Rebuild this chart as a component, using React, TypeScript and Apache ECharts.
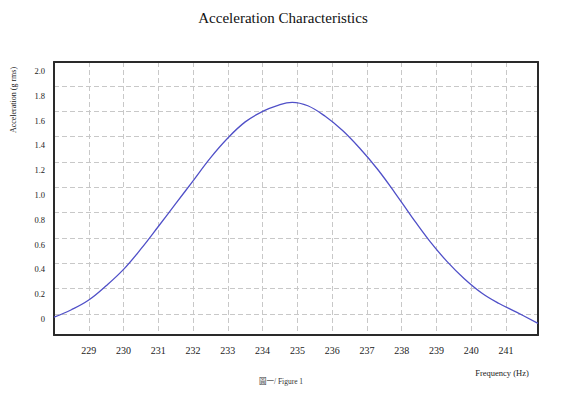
import React, { useEffect, useRef } from "react";
import * as echarts from "echarts";

const titleText = "Acceleration Characteristics";
const yName = "Acceleration (g rms)";
const xName = "Frequency (Hz)";
const caption = "圖一/ Figure 1";

const freq = [228, 228.5, 229, 229.5, 230, 230.5, 231, 231.5, 232, 232.5, 233, 233.5, 234, 234.4, 234.85, 235.3, 235.8, 236.3, 236.8, 237.3, 237.8, 238.3, 238.8, 239.3, 239.8, 240.3, 240.8, 241.3, 241.92];
const accel = [0.015, 0.075, 0.153, 0.268, 0.4, 0.565, 0.746, 0.93, 1.115, 1.3, 1.46, 1.59, 1.675, 1.72, 1.748, 1.72, 1.635, 1.52, 1.375, 1.21, 1.02, 0.82, 0.63, 0.465, 0.325, 0.21, 0.125, 0.055, -0.035];

const xTickMin = 229;
const xTickMax = 241;
const yTickMin = 0;
const yTickMax = 2;

const FONT = "'Liberation Serif', 'Times New Roman', serif";
const CJK = "'Liberation Serif', 'Noto Sans CJK TC', serif";

export default function App() {
  const ref = useRef<HTMLDivElement>(null);
  useEffect(() => {
    if (!ref.current) return;
    const chart = echarts.init(ref.current, null, { renderer: "svg" });
    const gridLine = { show: true, showMinLine: false, showMaxLine: false, lineStyle: { color: "#c8c8c8", type: [5, 3], width: 1 } };
    const border = { show: true, onZero: false, lineStyle: { color: "#2a2a2a", width: 2 } };
    chart.setOption({
      animation: false,
      backgroundColor: "#fff",
      title: {
        text: titleText,
        left: 278,
        top: 5,
        textAlign: "center",
        textStyle: { fontFamily: FONT, fontSize: 15, fontWeight: "normal", color: "#111" },
      },
      grid: { left: 54, right: 26, top: 62, bottom: 58, containLabel: false },
      xAxis: [
        {
          type: "value",
          position: "bottom",
          min: 228,
          max: 241.92,
          interval: 1,
          axisLine: border,
          axisTick: { show: false },
          axisLabel: {
            margin: 10,
            fontFamily: FONT,
            fontSize: 10,
            color: "#222",
            hideOverlap: false,
            formatter: (v: number) => {
              const r = Math.round(v);
              if (Math.abs(v - r) > 1e-6 || r < xTickMin || r > xTickMax) return "";
              return String(r);
            },
          },
          splitLine: gridLine,
        },
        {
          type: "value",
          position: "top",
          min: 228,
          max: 241.92,
          interval: 1,
          axisLine: border,
          axisTick: { show: false },
          axisLabel: { show: false },
          splitLine: { show: false },
        },
      ],
      yAxis: [
        {
          type: "value",
          position: "left",
          min: -0.129,
          max: 2.073,
          splitNumber: 11,
          axisLine: border,
          axisTick: { show: false },
          axisLabel: {
            margin: 9,
            fontFamily: FONT,
            fontSize: 8.5,
            color: "#222",
            hideOverlap: false,
            showMinLabel: false,
            showMaxLabel: false,
            formatter: (v: number) => {
              const r = Math.round(v * 5) / 5;
              if (Math.abs(v - r) > 1e-6 || r < yTickMin - 1e-9 || r > yTickMax + 1e-9) return "";
              return r === 0 ? "0" : r.toFixed(1);
            },
          },
          splitLine: { show: false },
        },
        {
          type: "value",
          position: "right",
          min: -0.83,
          max: 9.95,
          splitNumber: 11,
          axisLine: border,
          axisTick: { show: false },
          axisLabel: { show: false },
          splitLine: gridLine,
        },
      ],
      graphic: [
        {
          type: "text",
          x: 13.5,
          y: 100,
          rotation: Math.PI / 2,
          style: { text: yName, align: "center", verticalAlign: "middle", fontFamily: FONT, fontSize: 8, fill: "#222" },
        },
        {
          type: "text",
          x: 502,
          y: 373,
          style: { text: xName, align: "center", verticalAlign: "middle", fontFamily: FONT, fontSize: 8.5, fill: "#222" },
        },
        {
          type: "text",
          x: 281,
          y: 381,
          style: { text: caption, align: "center", verticalAlign: "middle", fontFamily: CJK, fontSize: 7.5, fill: "#333" },
        },
      ],
      series: [
        {
          type: "line",
          xAxisIndex: 0,
          yAxisIndex: 0,
          data: freq.map((f, i) => [f, accel[i]]),
          showSymbol: false,
          smooth: 0.4,
          lineStyle: { color: "#5050c8", width: 1.3 },
          clip: true,
        },
      ],
    });
    return () => chart.dispose();
  }, []);
  return <div ref={ref} style={{ position: "fixed", left: 0, top: 0, width: 564, height: 393 }} />;
}
